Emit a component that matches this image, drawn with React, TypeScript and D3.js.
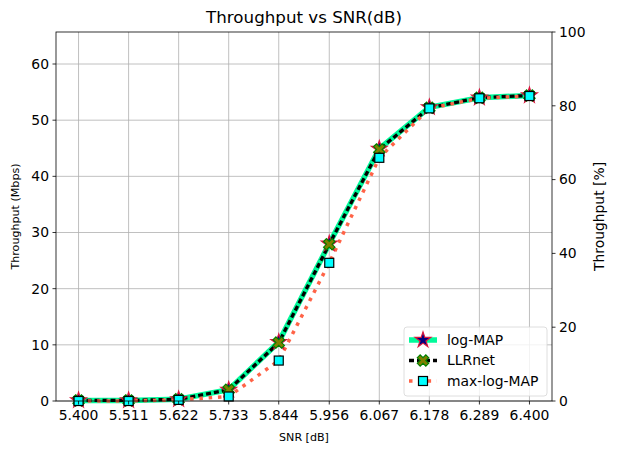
import * as d3 from "d3";

const snr = [5.4, 5.511, 5.622, 5.733, 5.844, 5.956, 6.067, 6.178, 6.289, 6.4];
const snrLabels = ["5.400", "5.511", "5.622", "5.733", "5.844", "5.956", "6.067", "6.178", "6.289", "6.400"];
const logMap = [0.1, 0.1, 0.3, 2.0, 10.5, 28.0, 44.9, 52.3, 54.0, 54.4];
const llrNet = [0.1, 0.1, 0.3, 2.0, 10.4, 27.9, 44.8, 52.2, 54.0, 54.4];
const maxLogMap = [0.0, 0.0, 0.2, 0.8, 7.2, 24.6, 43.3, 52.1, 53.9, 54.3];
const leftTicks = [0, 10, 20, 30, 40, 50, 60];
const rightTicks = [0, 20, 40, 60, 80, 100];

const W = 617, H = 454;
const m = { left: 56, right: 552, top: 32, bottom: 401 };
const font = "DejaVu Sans, sans-serif";

export default function App() {
  const x = d3.scaleLinear().domain([5.35, 6.45]).range([m.left, m.right]);
  const y = d3.scaleLinear().domain([0, 65.7]).range([m.bottom, m.top]);
  const yr = d3.scaleLinear().domain([0, 100]).range([m.bottom, m.top]);
  const line = (vals: number[]) =>
    d3.line<number>().x((_, i) => x(snr[i])).y((v) => y(v))(vals) || "";

  const star = d3.symbol(d3.symbolStar, 75)() || "";
  const cross = d3.symbol(d3.symbolCross, 80)() || "";

  const series = [
    { name: "log-MAP", vals: logMap, color: "#00fa9a", width: 5.5, dash: "none",
      marker: (k: string, cx: number, cy: number) => (
        <path key={k} d={star} transform={`translate(${cx},${cy})`} fill="#000080" stroke="#dc143c" strokeWidth={1.2} />
      ) },
    { name: "LLRnet", vals: llrNet, color: "#000000", width: 3.3, dash: "5,3",
      marker: (k: string, cx: number, cy: number) => (
        <path key={k} d={cross} transform={`translate(${cx},${cy}) rotate(45)`} fill="#808000" stroke="#008000" strokeWidth={1.2} />
      ) },
    { name: "max-log-MAP", vals: maxLogMap, color: "#ff6347", width: 3.5, dash: "3.5,5.8",
      marker: (k: string, cx: number, cy: number) => (
        <rect key={k} x={cx - 4.5} y={cy - 4.5} width={9} height={9} fill="#00ffff" stroke="#000" strokeWidth={1.2} />
      ) },
  ];

  return (
    <svg width={W} height={H} style={{ position: "absolute", left: 0, top: 0 }} fontFamily={font}>
      <rect width={W} height={H} fill="#fff" />
      {/* grid */}
      {snr.map((s) => (
        <line key={"gx" + s} x1={x(s)} x2={x(s)} y1={m.top} y2={m.bottom} stroke="#b0b0b0" strokeWidth={0.8} />
      ))}
      {leftTicks.map((t) => (
        <line key={"gy" + t} x1={m.left} x2={m.right} y1={y(t)} y2={y(t)} stroke="#b0b0b0" strokeWidth={0.8} />
      ))}
      {/* lines */}
      {series.map((s) => (
        <path key={s.name} d={line(s.vals)} fill="none" stroke={s.color} strokeWidth={s.width} strokeDasharray={s.dash} />
      ))}
      {series.map((s) => s.vals.map((v, i) => s.marker(s.name + i, x(snr[i]), y(v))))}
      {/* frame */}
      <rect x={m.left} y={m.top} width={m.right - m.left} height={m.bottom - m.top} fill="none" stroke="#000" strokeWidth={0.8} />
      {/* x axis */}
      {snr.map((s, i) => (
        <g key={"xt" + s} transform={`translate(${x(s)},${m.bottom})`}>
          <line y2={3.5} stroke="#000" strokeWidth={0.8} />
          <text y={19} textAnchor="middle" fontSize={13.9}>{snrLabels[i]}</text>
        </g>
      ))}
      <text x={(m.left + m.right) / 2} y={441} textAnchor="middle" fontSize={11.1}>SNR [dB]</text>
      {/* left axis */}
      {leftTicks.map((t) => (
        <g key={"yt" + t} transform={`translate(${m.left},${y(t)})`}>
          <line x2={-3.5} stroke="#000" strokeWidth={0.8} />
          <text x={-7} dy="0.35em" textAnchor="end" fontSize={13.9}>{t}</text>
        </g>
      ))}
      <text transform={`translate(19,${(m.top + m.bottom) / 2}) rotate(-90)`} textAnchor="middle" fontSize={11.1}>Throughput (Mbps)</text>
      {/* right axis */}
      {rightTicks.map((t) => (
        <g key={"rt" + t} transform={`translate(${m.right},${yr(t)})`}>
          <line x2={3.5} stroke="#000" strokeWidth={0.8} />
          <text x={7} dy="0.35em" textAnchor="start" fontSize={13.9}>{t}</text>
        </g>
      ))}
      <text transform={`translate(604,${(m.top + m.bottom) / 2}) rotate(-90)`} textAnchor="middle" fontSize={13.9}>Throughput [%]</text>
      {/* title */}
      <text x={(m.left + m.right) / 2} y={23} textAnchor="middle" fontSize={16.7}>Throughput vs SNR(dB)</text>
      {/* legend */}
      <g transform="translate(404,327)">
        <rect x={0} y={0} width={143} height={69} rx={3} fill="#fff" fillOpacity={0.8} stroke="#d5d5d5" strokeWidth={0.8} />
        {series.map((s, i) => (
          <g key={"lg" + s.name} transform={`translate(0,${13 + i * 20.5})`}>
            <line x1={5} x2={33} y1={0} y2={0} stroke={s.color} strokeWidth={s.width} strokeDasharray={s.dash} />
            {s.marker("lm" + i, 19, 0)}
            <text x={43} dy="0.35em" fontSize={13.9}>{s.name}</text>
          </g>
        ))}
      </g>
    </svg>
  );
}
